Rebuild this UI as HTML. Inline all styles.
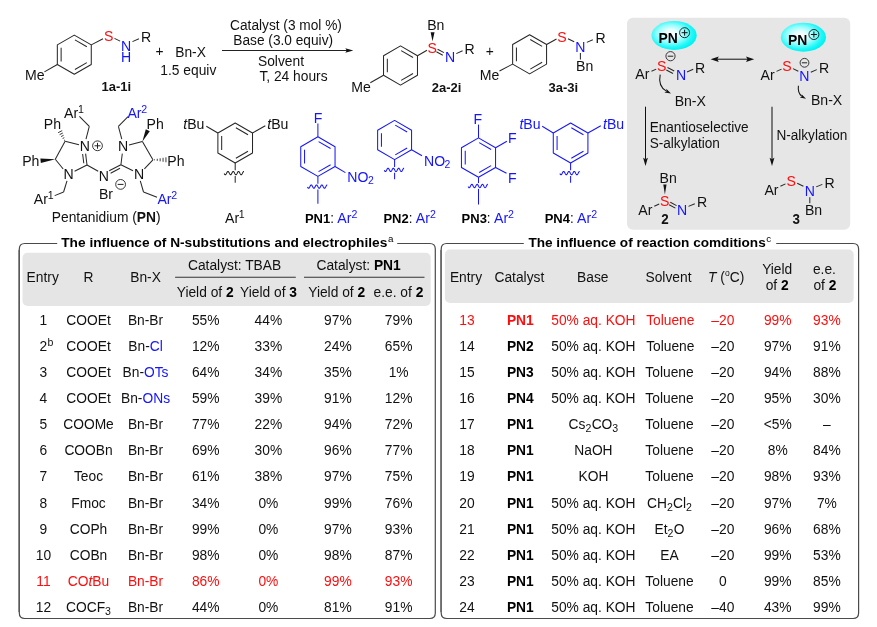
<!DOCTYPE html>
<html><head><meta charset="utf-8"><title>Scheme</title>
<style>
html,body{margin:0;padding:0;background:#fff;}
svg{display:block;font-family:"Liberation Sans",sans-serif;will-change:transform;opacity:0.999;}
text{font-family:"Liberation Sans",sans-serif;}
</style></head><body>
<svg width="877" height="627" viewBox="0 0 877 627">
<defs>
<radialGradient id="cy" cx="43%" cy="44%" r="57%">
<stop offset="0%" stop-color="#ffffff"/><stop offset="25%" stop-color="#e4ffff"/><stop offset="55%" stop-color="#90fcfc"/><stop offset="82%" stop-color="#22f8f8"/><stop offset="100%" stop-color="#00f2f2"/>
</radialGradient>
</defs>
<rect x="0" y="0" width="877" height="627" fill="#ffffff"/>
<polygon points="74.30,35.10 91.27,44.90 91.27,64.50 74.30,74.30 57.33,64.50 57.33,44.90" fill="none" stroke="#262626" stroke-width="1.02" stroke-linejoin="round"/>
<line x1="74.95" y1="39.86" x2="86.83" y2="46.72" stroke="#262626" stroke-width="1.02"/>
<line x1="86.83" y1="62.68" x2="74.95" y2="69.54" stroke="#262626" stroke-width="1.02"/>
<line x1="61.13" y1="61.56" x2="61.13" y2="47.84" stroke="#262626" stroke-width="1.02"/>
<line x1="91.27" y1="44.90" x2="103.00" y2="38.80" stroke="#262626" stroke-width="1.02"/>
<text transform="translate(108.60,41.25) scale(1,1.04)" text-anchor="middle" style="font-size:14.1px;fill:#ff0d0d;" >S</text>
<line x1="114.50" y1="38.40" x2="120.10" y2="41.10" stroke="#262626" stroke-width="1.02"/>
<text transform="translate(126.20,50.65) scale(1,1.04)" text-anchor="middle" style="font-size:14.1px;fill:#1414ff;" >N</text>
<text transform="translate(126.20,62.25) scale(1,1.04)" text-anchor="middle" style="font-size:14.1px;fill:#1414ff;" >H</text>
<line x1="132.50" y1="41.60" x2="138.90" y2="38.80" stroke="#262626" stroke-width="1.02"/>
<text transform="translate(146.10,41.55) scale(1,1.04)" text-anchor="middle" style="font-size:14.1px;fill:#111;" >R</text>
<line x1="57.33" y1="64.50" x2="44.40" y2="71.90" stroke="#262626" stroke-width="1.02"/>
<text transform="translate(34.70,80.25) scale(1,1.04)" text-anchor="middle" style="font-size:14.1px;fill:#111;" >Me</text>
<text transform="translate(116.30,91.30) scale(1,1.04)" text-anchor="middle" style="font-size:13.0px;fill:#111;font-weight:bold;" >1a-1i</text>
<text transform="translate(159.50,56.30) scale(1,1.04)" text-anchor="middle" style="font-size:13.8px;fill:#111;" >+</text>
<text transform="translate(190.50,57.00) scale(1,1.04)" text-anchor="middle" style="font-size:13.8px;fill:#111;" >Bn-X</text>
<text transform="translate(188.30,75.30) scale(1,1.04)" text-anchor="middle" style="font-size:13.8px;fill:#111;" >1.5 equiv</text>
<line x1="222.00" y1="50.50" x2="347.00" y2="50.50" stroke="#222" stroke-width="1.1"/>
<polygon points="353.30,50.50 345.30,52.75 346.80,50.50 345.30,48.25" fill="#111"/>
<text transform="translate(286.00,30.10) scale(1,1.04)" text-anchor="middle" style="font-size:13.7px;fill:#111;" >Catalyst (3 mol %)</text>
<text transform="translate(283.20,45.20) scale(1,1.04)" text-anchor="middle" style="font-size:13.7px;fill:#111;" >Base (3.0 equiv)</text>
<text transform="translate(281.00,65.70) scale(1,1.04)" text-anchor="middle" style="font-size:13.8px;fill:#111;" >Solvent</text>
<text transform="translate(293.50,81.00) scale(1,1.04)" text-anchor="middle" style="font-size:13.8px;fill:#111;" >T, 24 hours</text>
<polygon points="400.50,45.90 417.47,55.70 417.47,75.30 400.50,85.10 383.53,75.30 383.53,55.70" fill="none" stroke="#262626" stroke-width="1.02" stroke-linejoin="round"/>
<line x1="401.15" y1="50.66" x2="413.03" y2="57.52" stroke="#262626" stroke-width="1.02"/>
<line x1="413.03" y1="73.48" x2="401.15" y2="80.34" stroke="#262626" stroke-width="1.02"/>
<line x1="387.33" y1="72.36" x2="387.33" y2="58.64" stroke="#262626" stroke-width="1.02"/>
<line x1="417.47" y1="55.70" x2="427.00" y2="50.20" stroke="#262626" stroke-width="1.02"/>
<text transform="translate(432.30,52.85) scale(1,1.04)" text-anchor="middle" style="font-size:14.1px;fill:#ff0d0d;" >S</text>
<polygon points="432.50,41.20 434.55,32.22 430.65,32.18" fill="#111"/>
<text transform="translate(435.80,30.25) scale(1,1.04)" text-anchor="middle" style="font-size:14.1px;fill:#111;" >Bn</text>
<line x1="437.60" y1="49.20" x2="444.00" y2="52.60" stroke="#262626" stroke-width="1.02"/>
<line x1="436.40" y1="51.80" x2="442.80" y2="55.20" stroke="#262626" stroke-width="1.02"/>
<text transform="translate(450.00,62.35) scale(1,1.04)" text-anchor="middle" style="font-size:14.1px;fill:#1414ff;" >N</text>
<line x1="456.30" y1="53.60" x2="462.60" y2="50.80" stroke="#262626" stroke-width="1.02"/>
<text transform="translate(469.70,54.05) scale(1,1.04)" text-anchor="middle" style="font-size:14.1px;fill:#111;" >R</text>
<line x1="383.53" y1="75.30" x2="370.30" y2="82.80" stroke="#262626" stroke-width="1.02"/>
<text transform="translate(361.00,91.65) scale(1,1.04)" text-anchor="middle" style="font-size:14.1px;fill:#111;" >Me</text>
<text transform="translate(446.60,92.30) scale(1,1.04)" text-anchor="middle" style="font-size:13.0px;fill:#111;font-weight:bold;" >2a-2i</text>
<text transform="translate(489.80,56.00) scale(1,1.04)" text-anchor="middle" style="font-size:13.8px;fill:#111;" >+</text>
<polygon points="529.60,34.70 546.57,44.50 546.57,64.10 529.60,73.90 512.63,64.10 512.63,44.50" fill="none" stroke="#262626" stroke-width="1.02" stroke-linejoin="round"/>
<line x1="530.25" y1="39.46" x2="542.13" y2="46.32" stroke="#262626" stroke-width="1.02"/>
<line x1="542.13" y1="62.28" x2="530.25" y2="69.14" stroke="#262626" stroke-width="1.02"/>
<line x1="516.43" y1="61.16" x2="516.43" y2="47.44" stroke="#262626" stroke-width="1.02"/>
<line x1="546.57" y1="44.50" x2="556.50" y2="39.00" stroke="#262626" stroke-width="1.02"/>
<text transform="translate(562.00,41.55) scale(1,1.04)" text-anchor="middle" style="font-size:14.1px;fill:#ff0d0d;" >S</text>
<line x1="568.00" y1="38.80" x2="574.20" y2="41.80" stroke="#262626" stroke-width="1.02"/>
<text transform="translate(580.40,51.55) scale(1,1.04)" text-anchor="middle" style="font-size:14.1px;fill:#1414ff;" >N</text>
<line x1="586.80" y1="42.40" x2="592.80" y2="39.80" stroke="#262626" stroke-width="1.02"/>
<text transform="translate(600.50,43.15) scale(1,1.04)" text-anchor="middle" style="font-size:14.1px;fill:#111;" >R</text>
<line x1="580.40" y1="53.00" x2="580.40" y2="59.50" stroke="#262626" stroke-width="1.02"/>
<text transform="translate(584.60,70.85) scale(1,1.04)" text-anchor="middle" style="font-size:14.1px;fill:#111;" >Bn</text>
<line x1="512.63" y1="64.10" x2="499.50" y2="71.00" stroke="#262626" stroke-width="1.02"/>
<text transform="translate(489.60,79.65) scale(1,1.04)" text-anchor="middle" style="font-size:14.1px;fill:#111;" >Me</text>
<text transform="translate(563.30,92.30) scale(1,1.04)" text-anchor="middle" style="font-size:13.0px;fill:#111;font-weight:bold;" >3a-3i</text>
<rect x="627" y="17.7" width="223.2" height="212.1" rx="6" ry="6" fill="#e6e6e6"/>
<ellipse cx="674.1" cy="35.4" rx="22.6" ry="14.5" fill="url(#cy)"/>
<text transform="translate(677.90,43.40) scale(1,1.04)" text-anchor="end" style="font-size:13.9px;fill:#000;font-weight:bold;" >PN</text>
<circle cx="684.60" cy="32.70" r="5.0" fill="none" stroke="#111" stroke-width="0.9"/>
<line x1="681.60" y1="32.70" x2="687.60" y2="32.70" stroke="#111" stroke-width="1.0"/>
<line x1="684.60" y1="29.70" x2="684.60" y2="35.70" stroke="#111" stroke-width="1.0"/>
<ellipse cx="803.4" cy="37.2" rx="22.6" ry="14.5" fill="url(#cy)"/>
<text transform="translate(807.20,45.20) scale(1,1.04)" text-anchor="end" style="font-size:13.9px;fill:#000;font-weight:bold;" >PN</text>
<circle cx="813.90" cy="34.50" r="5.0" fill="none" stroke="#111" stroke-width="0.9"/>
<line x1="810.90" y1="34.50" x2="816.90" y2="34.50" stroke="#111" stroke-width="1.0"/>
<line x1="813.90" y1="31.50" x2="813.90" y2="37.50" stroke="#111" stroke-width="1.0"/>
<text transform="translate(642.40,79.35) scale(1,1.04)" text-anchor="middle" style="font-size:14.1px;fill:#111;" >Ar</text>
<line x1="651.50" y1="71.30" x2="656.20" y2="69.10" stroke="#262626" stroke-width="1.02"/>
<text transform="translate(661.80,71.15) scale(1,1.04)" text-anchor="middle" style="font-size:14.1px;fill:#ff0d0d;" >S</text>
<circle cx="670.50" cy="56.20" r="4.6" fill="none" stroke="#222" stroke-width="0.9"/>
<line x1="667.74" y1="56.20" x2="673.26" y2="56.20" stroke="#222" stroke-width="1.0"/>
<line x1="667.50" y1="67.50" x2="674.20" y2="71.00" stroke="#262626" stroke-width="1.02"/>
<line x1="666.30" y1="70.00" x2="673.00" y2="73.50" stroke="#262626" stroke-width="1.02"/>
<text transform="translate(681.00,80.45) scale(1,1.04)" text-anchor="middle" style="font-size:14.1px;fill:#1414ff;" >N</text>
<line x1="687.00" y1="72.00" x2="693.20" y2="69.30" stroke="#262626" stroke-width="1.02"/>
<text transform="translate(700.20,72.55) scale(1,1.04)" text-anchor="middle" style="font-size:14.1px;fill:#111;" >R</text>
<text transform="translate(690.30,106.15) scale(1,1.04)" text-anchor="middle" style="font-size:14.1px;fill:#111;" >Bn-X</text>
<path d="M660.2,74.6 C658.8,81.5 660.8,88 666.4,91.1" fill="none" stroke="#111" stroke-width="1.05"/>
<polygon points="671.00,93.60 664.40,92.42 666.65,91.34 666.25,88.87" fill="#111"/>
<line x1="717.00" y1="59.20" x2="748.00" y2="59.20" stroke="#111" stroke-width="1.02"/>
<polygon points="710.60,59.20 718.80,56.50 717.30,59.20 718.80,61.90" fill="#111"/>
<polygon points="754.20,59.20 746.00,61.90 747.50,59.20 746.00,56.50" fill="#111"/>
<text transform="translate(767.60,79.75) scale(1,1.04)" text-anchor="middle" style="font-size:14.1px;fill:#111;" >Ar</text>
<line x1="776.50" y1="71.40" x2="781.50" y2="69.10" stroke="#262626" stroke-width="1.02"/>
<text transform="translate(786.90,71.15) scale(1,1.04)" text-anchor="middle" style="font-size:14.1px;fill:#ff0d0d;" >S</text>
<line x1="793.00" y1="68.60" x2="798.30" y2="71.20" stroke="#262626" stroke-width="1.02"/>
<text transform="translate(804.30,80.85) scale(1,1.04)" text-anchor="middle" style="font-size:14.1px;fill:#1414ff;" >N</text>
<circle cx="804.50" cy="62.80" r="4.4" fill="none" stroke="#222" stroke-width="0.9"/>
<line x1="801.86" y1="62.80" x2="807.14" y2="62.80" stroke="#222" stroke-width="1.0"/>
<line x1="810.80" y1="72.20" x2="816.80" y2="69.60" stroke="#262626" stroke-width="1.02"/>
<text transform="translate(824.20,72.95) scale(1,1.04)" text-anchor="middle" style="font-size:14.1px;fill:#111;" >R</text>
<text transform="translate(826.60,105.35) scale(1,1.04)" text-anchor="middle" style="font-size:14.1px;fill:#111;" >Bn-X</text>
<path d="M798.4,85.8 C797.8,90.6 799.2,94.2 801.8,96.3" fill="none" stroke="#111" stroke-width="1.05"/>
<polygon points="806.00,98.70 799.84,97.51 802.03,96.58 801.58,94.24" fill="#111"/>
<line x1="645.50" y1="106.70" x2="645.50" y2="159.00" stroke="#111" stroke-width="1.02"/>
<polygon points="645.50,166.10 643.10,157.70 645.50,159.20 647.90,157.70" fill="#111"/>
<line x1="772.00" y1="106.70" x2="772.00" y2="159.00" stroke="#111" stroke-width="1.02"/>
<polygon points="772.00,166.10 769.60,157.70 772.00,159.20 774.40,157.70" fill="#111"/>
<text transform="translate(649.70,132.20) scale(1,1.04)" text-anchor="start" style="font-size:13.6px;fill:#111;" >Enantioselective</text>
<text transform="translate(649.70,148.20) scale(1,1.04)" text-anchor="start" style="font-size:13.6px;fill:#111;" >S-alkylation</text>
<text transform="translate(776.40,140.10) scale(1,1.04)" text-anchor="start" style="font-size:13.6px;fill:#111;" >N-alkylation</text>
<text transform="translate(668.10,182.55) scale(1,1.04)" text-anchor="middle" style="font-size:14.1px;fill:#111;" >Bn</text>
<polygon points="664.90,194.50 666.50,184.50 663.30,184.50" fill="#111"/>
<text transform="translate(664.60,205.85) scale(1,1.04)" text-anchor="middle" style="font-size:14.1px;fill:#ff0d0d;" >S</text>
<text transform="translate(645.30,215.05) scale(1,1.04)" text-anchor="middle" style="font-size:14.1px;fill:#111;" >Ar</text>
<line x1="654.30" y1="206.20" x2="659.20" y2="204.00" stroke="#262626" stroke-width="1.02"/>
<line x1="670.30" y1="202.30" x2="676.60" y2="205.60" stroke="#262626" stroke-width="1.02"/>
<line x1="669.10" y1="204.80" x2="675.40" y2="208.10" stroke="#262626" stroke-width="1.02"/>
<text transform="translate(682.00,215.05) scale(1,1.04)" text-anchor="middle" style="font-size:14.1px;fill:#1414ff;" >N</text>
<line x1="688.50" y1="206.40" x2="694.80" y2="203.70" stroke="#262626" stroke-width="1.02"/>
<text transform="translate(702.00,207.15) scale(1,1.04)" text-anchor="middle" style="font-size:14.1px;fill:#111;" >R</text>
<text transform="translate(665.00,224.00) scale(1,1.04)" text-anchor="middle" style="font-size:13.4px;fill:#111;font-weight:bold;" >2</text>
<text transform="translate(771.50,194.85) scale(1,1.04)" text-anchor="middle" style="font-size:14.1px;fill:#111;" >Ar</text>
<line x1="780.40" y1="186.20" x2="785.50" y2="183.90" stroke="#262626" stroke-width="1.02"/>
<text transform="translate(791.10,185.75) scale(1,1.04)" text-anchor="middle" style="font-size:14.1px;fill:#ff0d0d;" >S</text>
<line x1="797.20" y1="183.30" x2="803.40" y2="186.30" stroke="#262626" stroke-width="1.02"/>
<text transform="translate(809.80,195.75) scale(1,1.04)" text-anchor="middle" style="font-size:14.1px;fill:#1414ff;" >N</text>
<line x1="816.20" y1="186.90" x2="822.30" y2="184.40" stroke="#262626" stroke-width="1.02"/>
<text transform="translate(829.70,188.05) scale(1,1.04)" text-anchor="middle" style="font-size:14.1px;fill:#111;" >R</text>
<line x1="809.80" y1="197.30" x2="809.80" y2="203.30" stroke="#262626" stroke-width="1.02"/>
<text transform="translate(813.50,215.05) scale(1,1.04)" text-anchor="middle" style="font-size:14.1px;fill:#111;" >Bn</text>
<text transform="translate(796.10,224.00) scale(1,1.04)" text-anchor="middle" style="font-size:13.4px;fill:#111;font-weight:bold;" >3</text>
<text transform="translate(84.80,151.35) scale(1,1.04)" text-anchor="middle" style="font-size:14.1px;fill:#111;" >N</text>
<text transform="translate(68.50,178.85) scale(1,1.04)" text-anchor="middle" style="font-size:14.1px;fill:#111;" >N</text>
<line x1="65.10" y1="141.30" x2="79.00" y2="144.80" stroke="#262626" stroke-width="1.02"/>
<line x1="55.30" y1="159.20" x2="65.10" y2="141.30" stroke="#262626" stroke-width="1.02"/>
<line x1="55.30" y1="159.20" x2="63.20" y2="169.00" stroke="#262626" stroke-width="1.02"/>
<line x1="74.60" y1="171.30" x2="87.00" y2="165.00" stroke="#262626" stroke-width="1.02"/>
<line x1="85.60" y1="153.60" x2="87.00" y2="165.00" stroke="#262626" stroke-width="1.02"/>
<line x1="82.60" y1="154.00" x2="83.80" y2="163.30" stroke="#262626" stroke-width="1.02"/>
<circle cx="97.50" cy="145.80" r="4.9" fill="none" stroke="#222" stroke-width="0.9"/>
<line x1="94.56" y1="145.80" x2="100.44" y2="145.80" stroke="#222" stroke-width="1.0"/>
<line x1="97.50" y1="142.86" x2="97.50" y2="148.74" stroke="#222" stroke-width="1.0"/>
<line x1="65.01" y1="139.99" x2="64.09" y2="140.47" stroke="#262626" stroke-width="0.9"/>
<line x1="64.30" y1="137.65" x2="62.60" y2="138.53" stroke="#262626" stroke-width="0.9"/>
<line x1="63.60" y1="135.31" x2="61.10" y2="136.59" stroke="#262626" stroke-width="0.9"/>
<line x1="62.89" y1="132.97" x2="59.61" y2="134.65" stroke="#262626" stroke-width="0.9"/>
<line x1="62.18" y1="130.63" x2="58.12" y2="132.71" stroke="#262626" stroke-width="0.9"/>
<text transform="translate(52.40,128.55) scale(1,1.04)" text-anchor="middle" style="font-size:14.1px;fill:#111;" >Ph</text>
<polygon points="55.30,159.20 40.38,158.51 40.82,162.89" fill="#111"/>
<text transform="translate(30.80,165.85) scale(1,1.04)" text-anchor="middle" style="font-size:14.1px;fill:#111;" >Ph</text>
<line x1="86.00" y1="139.20" x2="89.30" y2="126.30" stroke="#262626" stroke-width="1.02"/>
<line x1="89.30" y1="126.30" x2="79.40" y2="116.40" stroke="#262626" stroke-width="1.02"/>
<text transform="translate(64.00,117.60) scale(1,1.04)" text-anchor="start" style="font-size:14.1px;fill:#111;" >Ar</text>
<text transform="translate(78.00,112.80) scale(1,1.04)" text-anchor="start" style="font-size:10.6px;fill:#111;" >1</text>
<line x1="67.00" y1="180.80" x2="63.60" y2="192.00" stroke="#262626" stroke-width="1.02"/>
<line x1="63.60" y1="192.00" x2="54.70" y2="195.60" stroke="#262626" stroke-width="1.02"/>
<text transform="translate(33.80,203.80) scale(1,1.04)" text-anchor="start" style="font-size:14.1px;fill:#111;" >Ar</text>
<text transform="translate(47.80,199.00) scale(1,1.04)" text-anchor="start" style="font-size:10.6px;fill:#111;" >1</text>
<text transform="translate(103.80,180.65) scale(1,1.04)" text-anchor="middle" style="font-size:14.1px;fill:#111;" >N</text>
<line x1="87.00" y1="165.00" x2="98.20" y2="171.20" stroke="#262626" stroke-width="1.02"/>
<line x1="109.20" y1="170.70" x2="120.90" y2="164.70" stroke="#262626" stroke-width="1.02"/>
<line x1="110.60" y1="173.20" x2="120.00" y2="168.20" stroke="#262626" stroke-width="1.02"/>
<text transform="translate(123.10,151.35) scale(1,1.04)" text-anchor="middle" style="font-size:14.1px;fill:#111;" >N</text>
<text transform="translate(139.10,178.85) scale(1,1.04)" text-anchor="middle" style="font-size:14.1px;fill:#111;" >N</text>
<line x1="120.90" y1="164.70" x2="122.30" y2="153.60" stroke="#262626" stroke-width="1.02"/>
<line x1="120.90" y1="164.70" x2="133.00" y2="170.80" stroke="#262626" stroke-width="1.02"/>
<line x1="129.00" y1="144.90" x2="142.40" y2="141.60" stroke="#262626" stroke-width="1.02"/>
<line x1="142.40" y1="141.60" x2="152.90" y2="159.80" stroke="#262626" stroke-width="1.02"/>
<line x1="152.90" y1="159.80" x2="144.40" y2="168.80" stroke="#262626" stroke-width="1.02"/>
<polygon points="142.40,141.60 149.79,131.14 145.81,129.26" fill="#111"/>
<text transform="translate(155.10,128.55) scale(1,1.04)" text-anchor="middle" style="font-size:14.1px;fill:#111;" >Ph</text>
<line x1="154.35" y1="160.34" x2="154.35" y2="159.26" stroke="#262626" stroke-width="0.9"/>
<line x1="157.25" y1="160.82" x2="157.25" y2="158.78" stroke="#262626" stroke-width="0.9"/>
<line x1="160.15" y1="161.30" x2="160.15" y2="158.30" stroke="#262626" stroke-width="0.9"/>
<line x1="163.05" y1="161.78" x2="163.05" y2="157.82" stroke="#262626" stroke-width="0.9"/>
<line x1="165.95" y1="162.26" x2="165.95" y2="157.34" stroke="#262626" stroke-width="0.9"/>
<text transform="translate(175.90,165.85) scale(1,1.04)" text-anchor="middle" style="font-size:14.1px;fill:#111;" >Ph</text>
<line x1="121.80" y1="139.20" x2="118.40" y2="126.30" stroke="#262626" stroke-width="1.02"/>
<line x1="118.40" y1="126.30" x2="128.00" y2="116.60" stroke="#262626" stroke-width="1.02"/>
<text transform="translate(127.40,117.60) scale(1,1.04)" text-anchor="start" style="font-size:14.1px;fill:#1414ff;" >Ar</text>
<text transform="translate(141.20,112.80) scale(1,1.04)" text-anchor="start" style="font-size:10.6px;fill:#1414ff;" >2</text>
<line x1="140.30" y1="180.80" x2="143.50" y2="192.00" stroke="#262626" stroke-width="1.02"/>
<line x1="143.50" y1="192.00" x2="157.00" y2="197.20" stroke="#262626" stroke-width="1.02"/>
<text transform="translate(157.40,203.80) scale(1,1.04)" text-anchor="start" style="font-size:14.1px;fill:#1414ff;" >Ar</text>
<text transform="translate(171.20,199.00) scale(1,1.04)" text-anchor="start" style="font-size:10.6px;fill:#1414ff;" >2</text>
<text transform="translate(106.00,198.95) scale(1,1.04)" text-anchor="middle" style="font-size:14.1px;fill:#111;" >Br</text>
<circle cx="120.60" cy="184.40" r="4.9" fill="none" stroke="#222" stroke-width="0.9"/>
<line x1="117.66" y1="184.40" x2="123.54" y2="184.40" stroke="#222" stroke-width="1.0"/>
<text transform="translate(51.8,221.8) scale(1,1.04)" style="font-size:13.8px;fill:#111">Pentanidium (<tspan font-weight="bold">PN</tspan>)</text>
<polygon points="235.20,123.00 252.52,133.00 252.52,153.00 235.20,163.00 217.88,153.00 217.88,133.00" fill="none" stroke="#262626" stroke-width="1.02" stroke-linejoin="round"/>
<line x1="235.90" y1="127.79" x2="248.02" y2="134.79" stroke="#262626" stroke-width="1.02"/>
<line x1="248.02" y1="151.21" x2="235.90" y2="158.21" stroke="#262626" stroke-width="1.02"/>
<line x1="221.68" y1="150.00" x2="221.68" y2="136.00" stroke="#262626" stroke-width="1.02"/>
<line x1="217.88" y1="133.00" x2="206.30" y2="126.30" stroke="#262626" stroke-width="1.02"/>
<line x1="252.52" y1="133.00" x2="265.30" y2="125.70" stroke="#262626" stroke-width="1.02"/>
<text transform="translate(193.80,129.05) scale(1,1.04)" text-anchor="middle" style="font-size:14.1px;fill:#111"><tspan font-style="italic">t</tspan>Bu</text>
<text transform="translate(277.80,129.05) scale(1,1.04)" text-anchor="middle" style="font-size:14.1px;fill:#111"><tspan font-style="italic">t</tspan>Bu</text>
<line x1="235.20" y1="163.00" x2="235.20" y2="170.20" stroke="#262626" stroke-width="1.02"/>
<line x1="235.20" y1="176.00" x2="235.20" y2="182.80" stroke="#262626" stroke-width="1.02"/>
<polyline points="224.20,173.55 224.53,174.14 224.86,174.57 225.19,174.79 225.52,174.74 225.85,174.45 226.18,173.96 226.51,173.33 226.84,172.67 227.17,172.08 227.50,171.64 227.83,171.42 228.16,171.45 228.49,171.74 228.82,172.23 229.15,172.85 229.48,173.51 229.81,174.11 230.14,174.55 230.47,174.78 230.80,174.75 231.13,174.48 231.46,173.99 231.79,173.37 232.12,172.71 232.45,172.11 232.78,171.66 233.11,171.42 233.44,171.44 233.77,171.71 234.10,172.19 234.43,172.81 234.76,173.47 235.09,174.07 235.42,174.53 235.75,174.77 236.08,174.76 236.41,174.50 236.74,174.02 237.07,173.41 237.40,172.75 237.73,172.14 238.06,171.68 238.39,171.43 238.72,171.43 239.05,171.69 239.38,172.16 239.71,172.77 240.04,173.43 240.37,174.04 240.70,174.51 241.03,174.77 241.36,174.77 241.69,174.52 242.02,174.06 242.35,173.45 242.68,172.79 243.01,172.18 243.34,171.70 243.67,171.44 244.00,171.43" fill="none" stroke="#262626" stroke-width="1.05" stroke-linejoin="round"/>
<text transform="translate(225.00,222.60) scale(1,1.04)" text-anchor="start" style="font-size:14.1px;fill:#111;" >Ar</text>
<text transform="translate(238.80,217.80) scale(1,1.04)" text-anchor="start" style="font-size:10.6px;fill:#111;" >1</text>
<polygon points="317.90,136.80 335.05,146.70 335.05,166.50 317.90,176.40 300.75,166.50 300.75,146.70" fill="none" stroke="#1414ff" stroke-width="1.02" stroke-linejoin="round"/>
<line x1="318.57" y1="141.58" x2="330.58" y2="148.51" stroke="#1414ff" stroke-width="1.02"/>
<line x1="330.58" y1="164.69" x2="318.57" y2="171.62" stroke="#1414ff" stroke-width="1.02"/>
<line x1="304.55" y1="163.53" x2="304.55" y2="149.67" stroke="#1414ff" stroke-width="1.02"/>
<line x1="317.90" y1="136.80" x2="317.90" y2="123.60" stroke="#1414ff" stroke-width="1.02"/>
<text transform="translate(318.00,122.55) scale(1,1.04)" text-anchor="middle" style="font-size:14.1px;fill:#1414ff;" >F</text>
<line x1="335.05" y1="166.50" x2="345.40" y2="172.60" stroke="#1414ff" stroke-width="1.02"/>
<text transform="translate(347.20,182.20) scale(1,1.04)" text-anchor="start" style="font-size:14.1px;fill:#1414ff;" >NO</text>
<text transform="translate(368.00,184.40) scale(1,1.04)" text-anchor="start" style="font-size:10.4px;fill:#1414ff;" >2</text>
<line x1="317.90" y1="176.40" x2="317.90" y2="183.70" stroke="#1414ff" stroke-width="1.02"/>
<line x1="317.90" y1="189.50" x2="317.90" y2="203.80" stroke="#1414ff" stroke-width="1.02"/>
<polyline points="307.50,187.05 307.83,187.64 308.16,188.07 308.49,188.29 308.82,188.24 309.15,187.95 309.48,187.46 309.81,186.83 310.14,186.17 310.47,185.58 310.80,185.14 311.13,184.92 311.46,184.95 311.79,185.24 312.12,185.73 312.45,186.35 312.78,187.01 313.11,187.61 313.44,188.05 313.77,188.28 314.10,188.25 314.43,187.98 314.76,187.49 315.09,186.87 315.42,186.21 315.75,185.61 316.08,185.16 316.41,184.92 316.74,184.94 317.07,185.21 317.40,185.69 317.73,186.31 318.06,186.97 318.39,187.57 318.72,188.03 319.05,188.27 319.38,188.26 319.71,188.00 320.04,187.52 320.37,186.91 320.70,186.25 321.03,185.64 321.36,185.18 321.69,184.93 322.02,184.93 322.35,185.19 322.68,185.66 323.01,186.27 323.34,186.93 323.67,187.54 324.00,188.01 324.33,188.27 324.66,188.27 324.99,188.02 325.32,187.56 325.65,186.95 325.98,186.29 326.31,185.68 326.64,185.20 326.97,184.94 327.30,184.93" fill="none" stroke="#1414ff" stroke-width="1.05" stroke-linejoin="round"/>
<text transform="translate(304.9,222.8) scale(1,1.04)" style="font-size:13.0px;fill:#000;font-weight:bold">PN1<tspan font-weight="normal" font-size="13.4" fill="#111">:</tspan></text>
<text transform="translate(337.29999999999995,222.8) scale(1,1.04)" style="font-size:14.1px;fill:#1414ff">Ar<tspan dy="-4.9" font-size="10.6">2</tspan></text>
<polygon points="394.60,120.40 411.57,130.20 411.57,149.80 394.60,159.60 377.63,149.80 377.63,130.20" fill="none" stroke="#1414ff" stroke-width="1.02" stroke-linejoin="round"/>
<line x1="395.25" y1="125.16" x2="407.13" y2="132.02" stroke="#1414ff" stroke-width="1.02"/>
<line x1="407.13" y1="147.98" x2="395.25" y2="154.84" stroke="#1414ff" stroke-width="1.02"/>
<line x1="381.43" y1="146.86" x2="381.43" y2="133.14" stroke="#1414ff" stroke-width="1.02"/>
<line x1="411.57" y1="149.80" x2="422.00" y2="155.80" stroke="#1414ff" stroke-width="1.02"/>
<text transform="translate(424.00,165.90) scale(1,1.04)" text-anchor="start" style="font-size:14.1px;fill:#1414ff;" >NO</text>
<text transform="translate(444.40,168.40) scale(1,1.04)" text-anchor="start" style="font-size:10.4px;fill:#1414ff;" >2</text>
<line x1="394.60" y1="159.60" x2="394.60" y2="167.00" stroke="#1414ff" stroke-width="1.02"/>
<line x1="394.60" y1="172.80" x2="394.60" y2="179.30" stroke="#1414ff" stroke-width="1.02"/>
<polyline points="384.30,170.35 384.63,170.94 384.96,171.37 385.29,171.59 385.62,171.54 385.95,171.25 386.28,170.76 386.61,170.13 386.94,169.47 387.27,168.88 387.60,168.44 387.93,168.22 388.26,168.25 388.59,168.54 388.92,169.03 389.25,169.65 389.58,170.31 389.91,170.91 390.24,171.35 390.57,171.58 390.90,171.55 391.23,171.28 391.56,170.79 391.89,170.17 392.22,169.51 392.55,168.91 392.88,168.46 393.21,168.22 393.54,168.24 393.87,168.51 394.20,168.99 394.53,169.61 394.86,170.27 395.19,170.87 395.52,171.33 395.85,171.57 396.18,171.56 396.51,171.30 396.84,170.82 397.17,170.21 397.50,169.55 397.83,168.94 398.16,168.48 398.49,168.23 398.82,168.23 399.15,168.49 399.48,168.96 399.81,169.57 400.14,170.23 400.47,170.84 400.80,171.31 401.13,171.57 401.46,171.57 401.79,171.32 402.12,170.86 402.45,170.25 402.78,169.59 403.11,168.98 403.44,168.50 403.77,168.24 404.10,168.23" fill="none" stroke="#1414ff" stroke-width="1.05" stroke-linejoin="round"/>
<text transform="translate(383.4,222.8) scale(1,1.04)" style="font-size:13.0px;fill:#000;font-weight:bold">PN2<tspan font-weight="normal" font-size="13.4" fill="#111">:</tspan></text>
<text transform="translate(415.79999999999995,222.8) scale(1,1.04)" style="font-size:14.1px;fill:#1414ff">Ar<tspan dy="-4.9" font-size="10.6">2</tspan></text>
<polygon points="478.50,137.90 495.56,147.75 495.56,167.45 478.50,177.30 461.44,167.45 461.44,147.75" fill="none" stroke="#1414ff" stroke-width="1.02" stroke-linejoin="round"/>
<line x1="479.16" y1="142.67" x2="491.10" y2="149.56" stroke="#1414ff" stroke-width="1.02"/>
<line x1="491.10" y1="165.64" x2="479.16" y2="172.53" stroke="#1414ff" stroke-width="1.02"/>
<line x1="465.24" y1="164.50" x2="465.24" y2="150.70" stroke="#1414ff" stroke-width="1.02"/>
<line x1="478.50" y1="137.90" x2="478.50" y2="124.60" stroke="#1414ff" stroke-width="1.02"/>
<text transform="translate(477.90,124.15) scale(1,1.04)" text-anchor="middle" style="font-size:14.1px;fill:#1414ff;" >F</text>
<line x1="495.56" y1="147.75" x2="506.90" y2="141.30" stroke="#1414ff" stroke-width="1.02"/>
<text transform="translate(512.30,143.15) scale(1,1.04)" text-anchor="middle" style="font-size:14.1px;fill:#1414ff;" >F</text>
<line x1="495.56" y1="167.45" x2="506.50" y2="173.20" stroke="#1414ff" stroke-width="1.02"/>
<text transform="translate(512.30,182.65) scale(1,1.04)" text-anchor="middle" style="font-size:14.1px;fill:#1414ff;" >F</text>
<line x1="478.50" y1="177.30" x2="478.50" y2="183.10" stroke="#1414ff" stroke-width="1.02"/>
<line x1="478.50" y1="188.90" x2="478.50" y2="204.50" stroke="#1414ff" stroke-width="1.02"/>
<polyline points="468.10,186.45 468.43,187.04 468.76,187.47 469.09,187.69 469.42,187.64 469.75,187.35 470.08,186.86 470.41,186.23 470.74,185.57 471.07,184.98 471.40,184.54 471.73,184.32 472.06,184.35 472.39,184.64 472.72,185.13 473.05,185.75 473.38,186.41 473.71,187.01 474.04,187.45 474.37,187.68 474.70,187.65 475.03,187.38 475.36,186.89 475.69,186.27 476.02,185.61 476.35,185.01 476.68,184.56 477.01,184.32 477.34,184.34 477.67,184.61 478.00,185.09 478.33,185.71 478.66,186.37 478.99,186.97 479.32,187.43 479.65,187.67 479.98,187.66 480.31,187.40 480.64,186.92 480.97,186.31 481.30,185.65 481.63,185.04 481.96,184.58 482.29,184.33 482.62,184.33 482.95,184.59 483.28,185.06 483.61,185.67 483.94,186.33 484.27,186.94 484.60,187.41 484.93,187.67 485.26,187.67 485.59,187.42 485.92,186.96 486.25,186.35 486.58,185.69 486.91,185.08 487.24,184.60 487.57,184.34 487.90,184.33" fill="none" stroke="#1414ff" stroke-width="1.05" stroke-linejoin="round"/>
<text transform="translate(461.6,222.8) scale(1,1.04)" style="font-size:13.0px;fill:#000;font-weight:bold">PN3<tspan font-weight="normal" font-size="13.4" fill="#111">:</tspan></text>
<text transform="translate(494.0,222.8) scale(1,1.04)" style="font-size:14.1px;fill:#1414ff">Ar<tspan dy="-4.9" font-size="10.6">2</tspan></text>
<polygon points="570.60,123.00 587.92,133.00 587.92,153.00 570.60,163.00 553.28,153.00 553.28,133.00" fill="none" stroke="#1414ff" stroke-width="1.02" stroke-linejoin="round"/>
<line x1="571.30" y1="127.79" x2="583.42" y2="134.79" stroke="#1414ff" stroke-width="1.02"/>
<line x1="583.42" y1="151.21" x2="571.30" y2="158.21" stroke="#1414ff" stroke-width="1.02"/>
<line x1="557.08" y1="150.00" x2="557.08" y2="136.00" stroke="#1414ff" stroke-width="1.02"/>
<line x1="553.28" y1="133.00" x2="542.20" y2="126.30" stroke="#1414ff" stroke-width="1.02"/>
<line x1="587.92" y1="133.00" x2="600.80" y2="125.70" stroke="#1414ff" stroke-width="1.02"/>
<text transform="translate(530.00,129.05) scale(1,1.04)" text-anchor="middle" style="font-size:14.1px;fill:#1414ff"><tspan font-style="italic">t</tspan>Bu</text>
<text transform="translate(613.60,129.05) scale(1,1.04)" text-anchor="middle" style="font-size:14.1px;fill:#1414ff"><tspan font-style="italic">t</tspan>Bu</text>
<line x1="570.60" y1="163.00" x2="570.60" y2="170.20" stroke="#1414ff" stroke-width="1.02"/>
<line x1="570.60" y1="176.00" x2="570.60" y2="182.80" stroke="#1414ff" stroke-width="1.02"/>
<polyline points="559.90,173.55 560.23,174.14 560.56,174.57 560.89,174.79 561.22,174.74 561.55,174.45 561.88,173.96 562.21,173.33 562.54,172.67 562.87,172.08 563.20,171.64 563.53,171.42 563.86,171.45 564.19,171.74 564.52,172.23 564.85,172.85 565.18,173.51 565.51,174.11 565.84,174.55 566.17,174.78 566.50,174.75 566.83,174.48 567.16,173.99 567.49,173.37 567.82,172.71 568.15,172.11 568.48,171.66 568.81,171.42 569.14,171.44 569.47,171.71 569.80,172.19 570.13,172.81 570.46,173.47 570.79,174.07 571.12,174.53 571.45,174.77 571.78,174.76 572.11,174.50 572.44,174.02 572.77,173.41 573.10,172.75 573.43,172.14 573.76,171.68 574.09,171.43 574.42,171.43 574.75,171.69 575.08,172.16 575.41,172.77 575.74,173.43 576.07,174.04 576.40,174.51 576.73,174.77 577.06,174.77 577.39,174.52 577.72,174.06 578.05,173.45 578.38,172.79 578.71,172.18 579.04,171.70 579.37,171.44 579.70,171.43" fill="none" stroke="#1414ff" stroke-width="1.05" stroke-linejoin="round"/>
<text transform="translate(544.7,222.8) scale(1,1.04)" style="font-size:13.0px;fill:#000;font-weight:bold">PN4<tspan font-weight="normal" font-size="13.4" fill="#111">:</tspan></text>
<text transform="translate(577.1,222.8) scale(1,1.04)" style="font-size:14.1px;fill:#1414ff">Ar<tspan dy="-4.9" font-size="10.6">2</tspan></text>
<path d="M18.75,612.0 L18.75,250.0" fill="none" stroke="#8c8c8c" stroke-width="1.0"/>
<path d="M397.2,243.5 L429.8,243.5 Q435.3,243.5 435.3,249.0 L435.3,613.0 Q435.3,618.5 429.8,618.5 L24.8,618.5 Q19.3,618.5 19.3,613.0 L19.3,249.0 Q19.3,243.5 24.8,243.5 L57.2,243.5" fill="none" stroke="#4a4a4a" stroke-width="1.2"/>
<text transform="translate(61.2,246.6) scale(1,0.95)" style="font-size:13.72px;font-weight:bold;fill:#000">The influence of N-substitutions and electrophiles<tspan dx="0.6" dy="-4.8" font-size="9.8" font-weight="normal">a</tspan></text>
<rect x="22.5" y="252.8" width="408.2" height="53.2" rx="5" fill="#e5e5e5"/>
<text transform="translate(42.70,281.80) scale(1,1.04)" text-anchor="middle" style="font-size:13.8px;fill:#111;" >Entry</text>
<text transform="translate(88.50,281.80) scale(1,1.04)" text-anchor="middle" style="font-size:13.8px;fill:#111;" >R</text>
<text transform="translate(145.50,281.80) scale(1,1.04)" text-anchor="middle" style="font-size:13.8px;fill:#111;" >Bn-X</text>
<text transform="translate(234.60,270.00) scale(1,1.04)" text-anchor="middle" style="font-size:13.8px;fill:#111;" >Catalyst: TBAB</text>
<text transform="translate(358.6,270.0) scale(1,1.04)" text-anchor="middle" style="font-size:13.8px;fill:#111">Catalyst: <tspan font-weight="bold" fill="#000">PN1</tspan></text>
<line x1="175.10" y1="277.30" x2="295.80" y2="277.30" stroke="#333" stroke-width="1.1"/>
<line x1="304.00" y1="277.30" x2="424.50" y2="277.30" stroke="#333" stroke-width="1.1"/>
<text transform="translate(205.2,296.8) scale(1,1.04)" text-anchor="middle" style="font-size:13.8px;fill:#111">Yield of <tspan font-weight="bold" fill="#000">2</tspan></text>
<text transform="translate(268.5,296.8) scale(1,1.04)" text-anchor="middle" style="font-size:13.8px;fill:#111">Yield of <tspan font-weight="bold" fill="#000">3</tspan></text>
<text transform="translate(336.7,296.8) scale(1,1.04)" text-anchor="middle" style="font-size:13.8px;fill:#111">Yield of <tspan font-weight="bold" fill="#000">2</tspan></text>
<text transform="translate(398.4,296.8) scale(1,1.04)" text-anchor="middle" style="font-size:13.8px;fill:#111">e.e. of <tspan font-weight="bold" fill="#000">2</tspan></text>
<text transform="translate(43.40,324.95) scale(1,1.04)" text-anchor="middle" style="font-size:13.8px;fill:#111;" >1</text>
<text transform="translate(88.50,324.95) scale(1,1.04)" text-anchor="middle" style="font-size:13.8px;fill:#111;" >COOEt</text>
<text transform="translate(145.50,324.95) scale(1,1.04)" text-anchor="middle" style="font-size:13.8px;fill:#111;" >Bn-Br</text>
<text transform="translate(205.70,324.95) scale(1,1.04)" text-anchor="middle" style="font-size:13.8px;fill:#111;" >55%</text>
<text transform="translate(268.40,324.95) scale(1,1.04)" text-anchor="middle" style="font-size:13.8px;fill:#111;" >44%</text>
<text transform="translate(337.90,324.95) scale(1,1.04)" text-anchor="middle" style="font-size:13.8px;fill:#111;" >97%</text>
<text transform="translate(398.60,324.95) scale(1,1.04)" text-anchor="middle" style="font-size:13.8px;fill:#111;" >79%</text>
<text transform="translate(43.40,351.03) scale(1,1.04)" text-anchor="middle" style="font-size:13.8px;fill:#111;" >2</text>
<text transform="translate(88.50,351.03) scale(1,1.04)" text-anchor="middle" style="font-size:13.8px;fill:#111;" >COOEt</text>
<text transform="translate(145.50,351.03) scale(1,1.04)" text-anchor="middle" style="font-size:13.8px;fill:#111;" >Bn-<tspan fill="#1414ff">Cl</tspan></text>
<text transform="translate(205.70,351.03) scale(1,1.04)" text-anchor="middle" style="font-size:13.8px;fill:#111;" >12%</text>
<text transform="translate(268.40,351.03) scale(1,1.04)" text-anchor="middle" style="font-size:13.8px;fill:#111;" >33%</text>
<text transform="translate(337.90,351.03) scale(1,1.04)" text-anchor="middle" style="font-size:13.8px;fill:#111;" >24%</text>
<text transform="translate(398.60,351.03) scale(1,1.04)" text-anchor="middle" style="font-size:13.8px;fill:#111;" >65%</text>
<text transform="translate(43.40,377.11) scale(1,1.04)" text-anchor="middle" style="font-size:13.8px;fill:#111;" >3</text>
<text transform="translate(88.50,377.11) scale(1,1.04)" text-anchor="middle" style="font-size:13.8px;fill:#111;" >COOEt</text>
<text transform="translate(145.50,377.11) scale(1,1.04)" text-anchor="middle" style="font-size:13.8px;fill:#111;" >Bn-<tspan fill="#1414ff">OTs</tspan></text>
<text transform="translate(205.70,377.11) scale(1,1.04)" text-anchor="middle" style="font-size:13.8px;fill:#111;" >64%</text>
<text transform="translate(268.40,377.11) scale(1,1.04)" text-anchor="middle" style="font-size:13.8px;fill:#111;" >34%</text>
<text transform="translate(337.90,377.11) scale(1,1.04)" text-anchor="middle" style="font-size:13.8px;fill:#111;" >35%</text>
<text transform="translate(398.60,377.11) scale(1,1.04)" text-anchor="middle" style="font-size:13.8px;fill:#111;" >1%</text>
<text transform="translate(43.40,403.19) scale(1,1.04)" text-anchor="middle" style="font-size:13.8px;fill:#111;" >4</text>
<text transform="translate(88.50,403.19) scale(1,1.04)" text-anchor="middle" style="font-size:13.8px;fill:#111;" >COOEt</text>
<text transform="translate(145.50,403.19) scale(1,1.04)" text-anchor="middle" style="font-size:13.8px;fill:#111;" >Bn-<tspan fill="#1414ff">ONs</tspan></text>
<text transform="translate(205.70,403.19) scale(1,1.04)" text-anchor="middle" style="font-size:13.8px;fill:#111;" >59%</text>
<text transform="translate(268.40,403.19) scale(1,1.04)" text-anchor="middle" style="font-size:13.8px;fill:#111;" >39%</text>
<text transform="translate(337.90,403.19) scale(1,1.04)" text-anchor="middle" style="font-size:13.8px;fill:#111;" >91%</text>
<text transform="translate(398.60,403.19) scale(1,1.04)" text-anchor="middle" style="font-size:13.8px;fill:#111;" >12%</text>
<text transform="translate(43.40,429.27) scale(1,1.04)" text-anchor="middle" style="font-size:13.8px;fill:#111;" >5</text>
<text transform="translate(88.50,429.27) scale(1,1.04)" text-anchor="middle" style="font-size:13.8px;fill:#111;" >COOMe</text>
<text transform="translate(145.50,429.27) scale(1,1.04)" text-anchor="middle" style="font-size:13.8px;fill:#111;" >Bn-Br</text>
<text transform="translate(205.70,429.27) scale(1,1.04)" text-anchor="middle" style="font-size:13.8px;fill:#111;" >77%</text>
<text transform="translate(268.40,429.27) scale(1,1.04)" text-anchor="middle" style="font-size:13.8px;fill:#111;" >22%</text>
<text transform="translate(337.90,429.27) scale(1,1.04)" text-anchor="middle" style="font-size:13.8px;fill:#111;" >94%</text>
<text transform="translate(398.60,429.27) scale(1,1.04)" text-anchor="middle" style="font-size:13.8px;fill:#111;" >72%</text>
<text transform="translate(43.40,455.35) scale(1,1.04)" text-anchor="middle" style="font-size:13.8px;fill:#111;" >6</text>
<text transform="translate(88.50,455.35) scale(1,1.04)" text-anchor="middle" style="font-size:13.8px;fill:#111;" >COOBn</text>
<text transform="translate(145.50,455.35) scale(1,1.04)" text-anchor="middle" style="font-size:13.8px;fill:#111;" >Bn-Br</text>
<text transform="translate(205.70,455.35) scale(1,1.04)" text-anchor="middle" style="font-size:13.8px;fill:#111;" >69%</text>
<text transform="translate(268.40,455.35) scale(1,1.04)" text-anchor="middle" style="font-size:13.8px;fill:#111;" >30%</text>
<text transform="translate(337.90,455.35) scale(1,1.04)" text-anchor="middle" style="font-size:13.8px;fill:#111;" >96%</text>
<text transform="translate(398.60,455.35) scale(1,1.04)" text-anchor="middle" style="font-size:13.8px;fill:#111;" >77%</text>
<text transform="translate(43.40,481.43) scale(1,1.04)" text-anchor="middle" style="font-size:13.8px;fill:#111;" >7</text>
<text transform="translate(88.50,481.43) scale(1,1.04)" text-anchor="middle" style="font-size:13.8px;fill:#111;" >Teoc</text>
<text transform="translate(145.50,481.43) scale(1,1.04)" text-anchor="middle" style="font-size:13.8px;fill:#111;" >Bn-Br</text>
<text transform="translate(205.70,481.43) scale(1,1.04)" text-anchor="middle" style="font-size:13.8px;fill:#111;" >61%</text>
<text transform="translate(268.40,481.43) scale(1,1.04)" text-anchor="middle" style="font-size:13.8px;fill:#111;" >38%</text>
<text transform="translate(337.90,481.43) scale(1,1.04)" text-anchor="middle" style="font-size:13.8px;fill:#111;" >97%</text>
<text transform="translate(398.60,481.43) scale(1,1.04)" text-anchor="middle" style="font-size:13.8px;fill:#111;" >75%</text>
<text transform="translate(43.40,507.51) scale(1,1.04)" text-anchor="middle" style="font-size:13.8px;fill:#111;" >8</text>
<text transform="translate(88.50,507.51) scale(1,1.04)" text-anchor="middle" style="font-size:13.8px;fill:#111;" >Fmoc</text>
<text transform="translate(145.50,507.51) scale(1,1.04)" text-anchor="middle" style="font-size:13.8px;fill:#111;" >Bn-Br</text>
<text transform="translate(205.70,507.51) scale(1,1.04)" text-anchor="middle" style="font-size:13.8px;fill:#111;" >34%</text>
<text transform="translate(268.40,507.51) scale(1,1.04)" text-anchor="middle" style="font-size:13.8px;fill:#111;" >0%</text>
<text transform="translate(337.90,507.51) scale(1,1.04)" text-anchor="middle" style="font-size:13.8px;fill:#111;" >99%</text>
<text transform="translate(398.60,507.51) scale(1,1.04)" text-anchor="middle" style="font-size:13.8px;fill:#111;" >76%</text>
<text transform="translate(43.40,533.59) scale(1,1.04)" text-anchor="middle" style="font-size:13.8px;fill:#111;" >9</text>
<text transform="translate(88.50,533.59) scale(1,1.04)" text-anchor="middle" style="font-size:13.8px;fill:#111;" >COPh</text>
<text transform="translate(145.50,533.59) scale(1,1.04)" text-anchor="middle" style="font-size:13.8px;fill:#111;" >Bn-Br</text>
<text transform="translate(205.70,533.59) scale(1,1.04)" text-anchor="middle" style="font-size:13.8px;fill:#111;" >99%</text>
<text transform="translate(268.40,533.59) scale(1,1.04)" text-anchor="middle" style="font-size:13.8px;fill:#111;" >0%</text>
<text transform="translate(337.90,533.59) scale(1,1.04)" text-anchor="middle" style="font-size:13.8px;fill:#111;" >97%</text>
<text transform="translate(398.60,533.59) scale(1,1.04)" text-anchor="middle" style="font-size:13.8px;fill:#111;" >93%</text>
<text transform="translate(43.40,559.67) scale(1,1.04)" text-anchor="middle" style="font-size:13.8px;fill:#111;" >10</text>
<text transform="translate(88.50,559.67) scale(1,1.04)" text-anchor="middle" style="font-size:13.8px;fill:#111;" >COBn</text>
<text transform="translate(145.50,559.67) scale(1,1.04)" text-anchor="middle" style="font-size:13.8px;fill:#111;" >Bn-Br</text>
<text transform="translate(205.70,559.67) scale(1,1.04)" text-anchor="middle" style="font-size:13.8px;fill:#111;" >98%</text>
<text transform="translate(268.40,559.67) scale(1,1.04)" text-anchor="middle" style="font-size:13.8px;fill:#111;" >0%</text>
<text transform="translate(337.90,559.67) scale(1,1.04)" text-anchor="middle" style="font-size:13.8px;fill:#111;" >98%</text>
<text transform="translate(398.60,559.67) scale(1,1.04)" text-anchor="middle" style="font-size:13.8px;fill:#111;" >87%</text>
<text transform="translate(43.40,585.75) scale(1,1.04)" text-anchor="middle" style="font-size:13.8px;fill:#ff0d0d;" >11</text>
<text transform="translate(88.50,585.75) scale(1,1.04)" text-anchor="middle" style="font-size:13.8px;fill:#ff0d0d;" >CO<tspan font-style="italic">t</tspan>Bu</text>
<text transform="translate(145.50,585.75) scale(1,1.04)" text-anchor="middle" style="font-size:13.8px;fill:#ff0d0d;" >Bn-Br</text>
<text transform="translate(205.70,585.75) scale(1,1.04)" text-anchor="middle" style="font-size:13.8px;fill:#ff0d0d;" >86%</text>
<text transform="translate(268.40,585.75) scale(1,1.04)" text-anchor="middle" style="font-size:13.8px;fill:#ff0d0d;" >0%</text>
<text transform="translate(337.90,585.75) scale(1,1.04)" text-anchor="middle" style="font-size:13.8px;fill:#ff0d0d;" >99%</text>
<text transform="translate(398.60,585.75) scale(1,1.04)" text-anchor="middle" style="font-size:13.8px;fill:#ff0d0d;" >93%</text>
<text transform="translate(43.40,611.83) scale(1,1.04)" text-anchor="middle" style="font-size:13.8px;fill:#111;" >12</text>
<text transform="translate(88.50,611.83) scale(1,1.04)" text-anchor="middle" style="font-size:13.8px;fill:#111;" >COCF<tspan dy="2.9" font-size="10.6">3</tspan><tspan dy="-2.9" font-size="1"> </tspan></text>
<text transform="translate(145.50,611.83) scale(1,1.04)" text-anchor="middle" style="font-size:13.8px;fill:#111;" >Bn-Br</text>
<text transform="translate(205.70,611.83) scale(1,1.04)" text-anchor="middle" style="font-size:13.8px;fill:#111;" >44%</text>
<text transform="translate(268.40,611.83) scale(1,1.04)" text-anchor="middle" style="font-size:13.8px;fill:#111;" >0%</text>
<text transform="translate(337.90,611.83) scale(1,1.04)" text-anchor="middle" style="font-size:13.8px;fill:#111;" >81%</text>
<text transform="translate(398.60,611.83) scale(1,1.04)" text-anchor="middle" style="font-size:13.8px;fill:#111;" >91%</text>
<text transform="translate(47.40,345.63) scale(1,1.04)" text-anchor="start" style="font-size:10.6px;fill:#111;" >b</text>
<path d="M440.65,612.0 L440.65,250.0" fill="none" stroke="#8c8c8c" stroke-width="1.0"/>
<path d="M776.2,243.5 L853.1,243.5 Q858.6,243.5 858.6,249.0 L858.6,613.0 Q858.6,618.5 853.1,618.5 L446.7,618.5 Q441.2,618.5 441.2,613.0 L441.2,249.0 Q441.2,243.5 446.7,243.5 L523.8,243.5" fill="none" stroke="#4a4a4a" stroke-width="1.2"/>
<text transform="translate(528.4,246.6) scale(1,0.95)" style="font-size:13.62px;font-weight:bold;fill:#000">The influence of reaction comditions<tspan dx="0.6" dy="-4.8" font-size="9.8" font-weight="normal">c</tspan></text>
<rect x="444.9" y="249.6" width="408.8" height="53.4" rx="5" fill="#e5e5e5"/>
<text transform="translate(466.00,281.80) scale(1,1.04)" text-anchor="middle" style="font-size:13.8px;fill:#111;" >Entry</text>
<text transform="translate(519.40,281.80) scale(1,1.04)" text-anchor="middle" style="font-size:13.8px;fill:#111;" >Catalyst</text>
<text transform="translate(592.80,281.80) scale(1,1.04)" text-anchor="middle" style="font-size:13.8px;fill:#111;" >Base</text>
<text transform="translate(668.50,281.80) scale(1,1.04)" text-anchor="middle" style="font-size:13.8px;fill:#111;" >Solvent</text>
<text transform="translate(726.2,281.8) scale(1,1.04)" text-anchor="middle" style="font-size:13.8px;fill:#111"><tspan font-style="italic">T</tspan> (<tspan dy="-5.6" font-size="8.6">o</tspan><tspan dy="5.6">C)</tspan></text>
<text transform="translate(777.20,273.80) scale(1,1.04)" text-anchor="middle" style="font-size:13.8px;fill:#111;" >Yield</text>
<text transform="translate(777.2,290.1) scale(1,1.04)" text-anchor="middle" style="font-size:13.8px;fill:#111">of <tspan font-weight="bold" fill="#000">2</tspan></text>
<text transform="translate(824.40,273.80) scale(1,1.04)" text-anchor="middle" style="font-size:13.8px;fill:#111;" >e.e.</text>
<text transform="translate(824.9,290.1) scale(1,1.04)" text-anchor="middle" style="font-size:13.8px;fill:#111">of <tspan font-weight="bold" fill="#000">2</tspan></text>
<text transform="translate(466.90,324.95) scale(1,1.04)" text-anchor="middle" style="font-size:13.8px;fill:#ff0d0d;" >13</text>
<text transform="translate(520.30,324.95) scale(1,1.04)" text-anchor="middle" style="font-size:13.8px;fill:#ff0d0d;font-weight:bold;" >PN1</text>
<text transform="translate(593.40,324.95) scale(1,1.04)" text-anchor="middle" style="font-size:13.8px;fill:#ff0d0d;" >50% aq. KOH</text>
<text transform="translate(670.30,324.95) scale(1,1.04)" text-anchor="middle" style="font-size:13.8px;fill:#ff0d0d;" >Toluene</text>
<text transform="translate(722.80,324.95) scale(1,1.04)" text-anchor="middle" style="font-size:13.8px;fill:#ff0d0d;" >–20</text>
<text transform="translate(777.70,324.95) scale(1,1.04)" text-anchor="middle" style="font-size:13.8px;fill:#ff0d0d;" >99%</text>
<text transform="translate(826.90,324.95) scale(1,1.04)" text-anchor="middle" style="font-size:13.8px;fill:#ff0d0d;" >93%</text>
<text transform="translate(466.90,351.03) scale(1,1.04)" text-anchor="middle" style="font-size:13.8px;fill:#111;" >14</text>
<text transform="translate(520.30,351.03) scale(1,1.04)" text-anchor="middle" style="font-size:13.8px;fill:#000;font-weight:bold;" >PN2</text>
<text transform="translate(593.40,351.03) scale(1,1.04)" text-anchor="middle" style="font-size:13.8px;fill:#111;" >50% aq. KOH</text>
<text transform="translate(670.30,351.03) scale(1,1.04)" text-anchor="middle" style="font-size:13.8px;fill:#111;" >Toluene</text>
<text transform="translate(722.80,351.03) scale(1,1.04)" text-anchor="middle" style="font-size:13.8px;fill:#111;" >–20</text>
<text transform="translate(777.70,351.03) scale(1,1.04)" text-anchor="middle" style="font-size:13.8px;fill:#111;" >97%</text>
<text transform="translate(826.90,351.03) scale(1,1.04)" text-anchor="middle" style="font-size:13.8px;fill:#111;" >91%</text>
<text transform="translate(466.90,377.11) scale(1,1.04)" text-anchor="middle" style="font-size:13.8px;fill:#111;" >15</text>
<text transform="translate(520.30,377.11) scale(1,1.04)" text-anchor="middle" style="font-size:13.8px;fill:#000;font-weight:bold;" >PN3</text>
<text transform="translate(593.40,377.11) scale(1,1.04)" text-anchor="middle" style="font-size:13.8px;fill:#111;" >50% aq. KOH</text>
<text transform="translate(669.50,377.11) scale(1,1.04)" text-anchor="middle" style="font-size:13.8px;fill:#111;" >Toluene</text>
<text transform="translate(722.80,377.11) scale(1,1.04)" text-anchor="middle" style="font-size:13.8px;fill:#111;" >–20</text>
<text transform="translate(777.70,377.11) scale(1,1.04)" text-anchor="middle" style="font-size:13.8px;fill:#111;" >94%</text>
<text transform="translate(826.90,377.11) scale(1,1.04)" text-anchor="middle" style="font-size:13.8px;fill:#111;" >88%</text>
<text transform="translate(466.90,403.19) scale(1,1.04)" text-anchor="middle" style="font-size:13.8px;fill:#111;" >16</text>
<text transform="translate(520.30,403.19) scale(1,1.04)" text-anchor="middle" style="font-size:13.8px;fill:#000;font-weight:bold;" >PN4</text>
<text transform="translate(593.40,403.19) scale(1,1.04)" text-anchor="middle" style="font-size:13.8px;fill:#111;" >50% aq. KOH</text>
<text transform="translate(669.50,403.19) scale(1,1.04)" text-anchor="middle" style="font-size:13.8px;fill:#111;" >Toluene</text>
<text transform="translate(722.80,403.19) scale(1,1.04)" text-anchor="middle" style="font-size:13.8px;fill:#111;" >–20</text>
<text transform="translate(777.70,403.19) scale(1,1.04)" text-anchor="middle" style="font-size:13.8px;fill:#111;" >95%</text>
<text transform="translate(826.90,403.19) scale(1,1.04)" text-anchor="middle" style="font-size:13.8px;fill:#111;" >30%</text>
<text transform="translate(466.90,429.27) scale(1,1.04)" text-anchor="middle" style="font-size:13.8px;fill:#111;" >17</text>
<text transform="translate(520.30,429.27) scale(1,1.04)" text-anchor="middle" style="font-size:13.8px;fill:#000;font-weight:bold;" >PN1</text>
<text transform="translate(593.40,429.27) scale(1,1.04)" text-anchor="middle" style="font-size:13.8px;fill:#111;" >Cs<tspan dy="2.9" font-size="10.6">2</tspan><tspan dy="-2.9" font-size="1"> </tspan>CO<tspan dy="2.9" font-size="10.6">3</tspan><tspan dy="-2.9" font-size="1"> </tspan></text>
<text transform="translate(669.50,429.27) scale(1,1.04)" text-anchor="middle" style="font-size:13.8px;fill:#111;" >Toluene</text>
<text transform="translate(722.80,429.27) scale(1,1.04)" text-anchor="middle" style="font-size:13.8px;fill:#111;" >–20</text>
<text transform="translate(777.70,429.27) scale(1,1.04)" text-anchor="middle" style="font-size:13.8px;fill:#111;" >&lt;5%</text>
<text transform="translate(826.90,429.27) scale(1,1.04)" text-anchor="middle" style="font-size:13.8px;fill:#111;" >–</text>
<text transform="translate(466.90,455.35) scale(1,1.04)" text-anchor="middle" style="font-size:13.8px;fill:#111;" >18</text>
<text transform="translate(520.30,455.35) scale(1,1.04)" text-anchor="middle" style="font-size:13.8px;fill:#000;font-weight:bold;" >PN1</text>
<text transform="translate(593.40,455.35) scale(1,1.04)" text-anchor="middle" style="font-size:13.8px;fill:#111;" >NaOH</text>
<text transform="translate(669.50,455.35) scale(1,1.04)" text-anchor="middle" style="font-size:13.8px;fill:#111;" >Toluene</text>
<text transform="translate(722.80,455.35) scale(1,1.04)" text-anchor="middle" style="font-size:13.8px;fill:#111;" >–20</text>
<text transform="translate(777.70,455.35) scale(1,1.04)" text-anchor="middle" style="font-size:13.8px;fill:#111;" >8%</text>
<text transform="translate(826.90,455.35) scale(1,1.04)" text-anchor="middle" style="font-size:13.8px;fill:#111;" >84%</text>
<text transform="translate(466.90,481.43) scale(1,1.04)" text-anchor="middle" style="font-size:13.8px;fill:#111;" >19</text>
<text transform="translate(520.30,481.43) scale(1,1.04)" text-anchor="middle" style="font-size:13.8px;fill:#000;font-weight:bold;" >PN1</text>
<text transform="translate(593.40,481.43) scale(1,1.04)" text-anchor="middle" style="font-size:13.8px;fill:#111;" >KOH</text>
<text transform="translate(669.50,481.43) scale(1,1.04)" text-anchor="middle" style="font-size:13.8px;fill:#111;" >Toluene</text>
<text transform="translate(722.80,481.43) scale(1,1.04)" text-anchor="middle" style="font-size:13.8px;fill:#111;" >–20</text>
<text transform="translate(777.70,481.43) scale(1,1.04)" text-anchor="middle" style="font-size:13.8px;fill:#111;" >98%</text>
<text transform="translate(826.90,481.43) scale(1,1.04)" text-anchor="middle" style="font-size:13.8px;fill:#111;" >93%</text>
<text transform="translate(466.90,507.51) scale(1,1.04)" text-anchor="middle" style="font-size:13.8px;fill:#111;" >20</text>
<text transform="translate(520.30,507.51) scale(1,1.04)" text-anchor="middle" style="font-size:13.8px;fill:#000;font-weight:bold;" >PN1</text>
<text transform="translate(593.40,507.51) scale(1,1.04)" text-anchor="middle" style="font-size:13.8px;fill:#111;" >50% aq. KOH</text>
<text transform="translate(669.50,507.51) scale(1,1.04)" text-anchor="middle" style="font-size:13.8px;fill:#111;" >CH<tspan dy="2.9" font-size="10.6">2</tspan><tspan dy="-2.9" font-size="1"> </tspan>Cl<tspan dy="2.9" font-size="10.6">2</tspan><tspan dy="-2.9" font-size="1"> </tspan></text>
<text transform="translate(722.80,507.51) scale(1,1.04)" text-anchor="middle" style="font-size:13.8px;fill:#111;" >–20</text>
<text transform="translate(777.70,507.51) scale(1,1.04)" text-anchor="middle" style="font-size:13.8px;fill:#111;" >97%</text>
<text transform="translate(826.90,507.51) scale(1,1.04)" text-anchor="middle" style="font-size:13.8px;fill:#111;" >7%</text>
<text transform="translate(466.90,533.59) scale(1,1.04)" text-anchor="middle" style="font-size:13.8px;fill:#111;" >21</text>
<text transform="translate(520.30,533.59) scale(1,1.04)" text-anchor="middle" style="font-size:13.8px;fill:#000;font-weight:bold;" >PN1</text>
<text transform="translate(593.40,533.59) scale(1,1.04)" text-anchor="middle" style="font-size:13.8px;fill:#111;" >50% aq. KOH</text>
<text transform="translate(669.50,533.59) scale(1,1.04)" text-anchor="middle" style="font-size:13.8px;fill:#111;" >Et<tspan dy="2.9" font-size="10.6">2</tspan><tspan dy="-2.9" font-size="1"> </tspan>O</text>
<text transform="translate(722.80,533.59) scale(1,1.04)" text-anchor="middle" style="font-size:13.8px;fill:#111;" >–20</text>
<text transform="translate(777.70,533.59) scale(1,1.04)" text-anchor="middle" style="font-size:13.8px;fill:#111;" >96%</text>
<text transform="translate(826.90,533.59) scale(1,1.04)" text-anchor="middle" style="font-size:13.8px;fill:#111;" >68%</text>
<text transform="translate(466.90,559.67) scale(1,1.04)" text-anchor="middle" style="font-size:13.8px;fill:#111;" >22</text>
<text transform="translate(520.30,559.67) scale(1,1.04)" text-anchor="middle" style="font-size:13.8px;fill:#000;font-weight:bold;" >PN1</text>
<text transform="translate(593.40,559.67) scale(1,1.04)" text-anchor="middle" style="font-size:13.8px;fill:#111;" >50% aq. KOH</text>
<text transform="translate(669.50,559.67) scale(1,1.04)" text-anchor="middle" style="font-size:13.8px;fill:#111;" >EA</text>
<text transform="translate(722.80,559.67) scale(1,1.04)" text-anchor="middle" style="font-size:13.8px;fill:#111;" >–20</text>
<text transform="translate(777.70,559.67) scale(1,1.04)" text-anchor="middle" style="font-size:13.8px;fill:#111;" >99%</text>
<text transform="translate(826.90,559.67) scale(1,1.04)" text-anchor="middle" style="font-size:13.8px;fill:#111;" >53%</text>
<text transform="translate(466.90,585.75) scale(1,1.04)" text-anchor="middle" style="font-size:13.8px;fill:#111;" >23</text>
<text transform="translate(520.30,585.75) scale(1,1.04)" text-anchor="middle" style="font-size:13.8px;fill:#000;font-weight:bold;" >PN1</text>
<text transform="translate(593.40,585.75) scale(1,1.04)" text-anchor="middle" style="font-size:13.8px;fill:#111;" >50% aq. KOH</text>
<text transform="translate(669.50,585.75) scale(1,1.04)" text-anchor="middle" style="font-size:13.8px;fill:#111;" >Toluene</text>
<text transform="translate(722.80,585.75) scale(1,1.04)" text-anchor="middle" style="font-size:13.8px;fill:#111;" >0</text>
<text transform="translate(777.70,585.75) scale(1,1.04)" text-anchor="middle" style="font-size:13.8px;fill:#111;" >99%</text>
<text transform="translate(826.90,585.75) scale(1,1.04)" text-anchor="middle" style="font-size:13.8px;fill:#111;" >85%</text>
<text transform="translate(466.90,611.83) scale(1,1.04)" text-anchor="middle" style="font-size:13.8px;fill:#111;" >24</text>
<text transform="translate(520.30,611.83) scale(1,1.04)" text-anchor="middle" style="font-size:13.8px;fill:#000;font-weight:bold;" >PN1</text>
<text transform="translate(593.40,611.83) scale(1,1.04)" text-anchor="middle" style="font-size:13.8px;fill:#111;" >50% aq. KOH</text>
<text transform="translate(669.50,611.83) scale(1,1.04)" text-anchor="middle" style="font-size:13.8px;fill:#111;" >Toluene</text>
<text transform="translate(722.80,611.83) scale(1,1.04)" text-anchor="middle" style="font-size:13.8px;fill:#111;" >–40</text>
<text transform="translate(777.70,611.83) scale(1,1.04)" text-anchor="middle" style="font-size:13.8px;fill:#111;" >43%</text>
<text transform="translate(826.90,611.83) scale(1,1.04)" text-anchor="middle" style="font-size:13.8px;fill:#111;" >99%</text>
</svg>
</body></html>
